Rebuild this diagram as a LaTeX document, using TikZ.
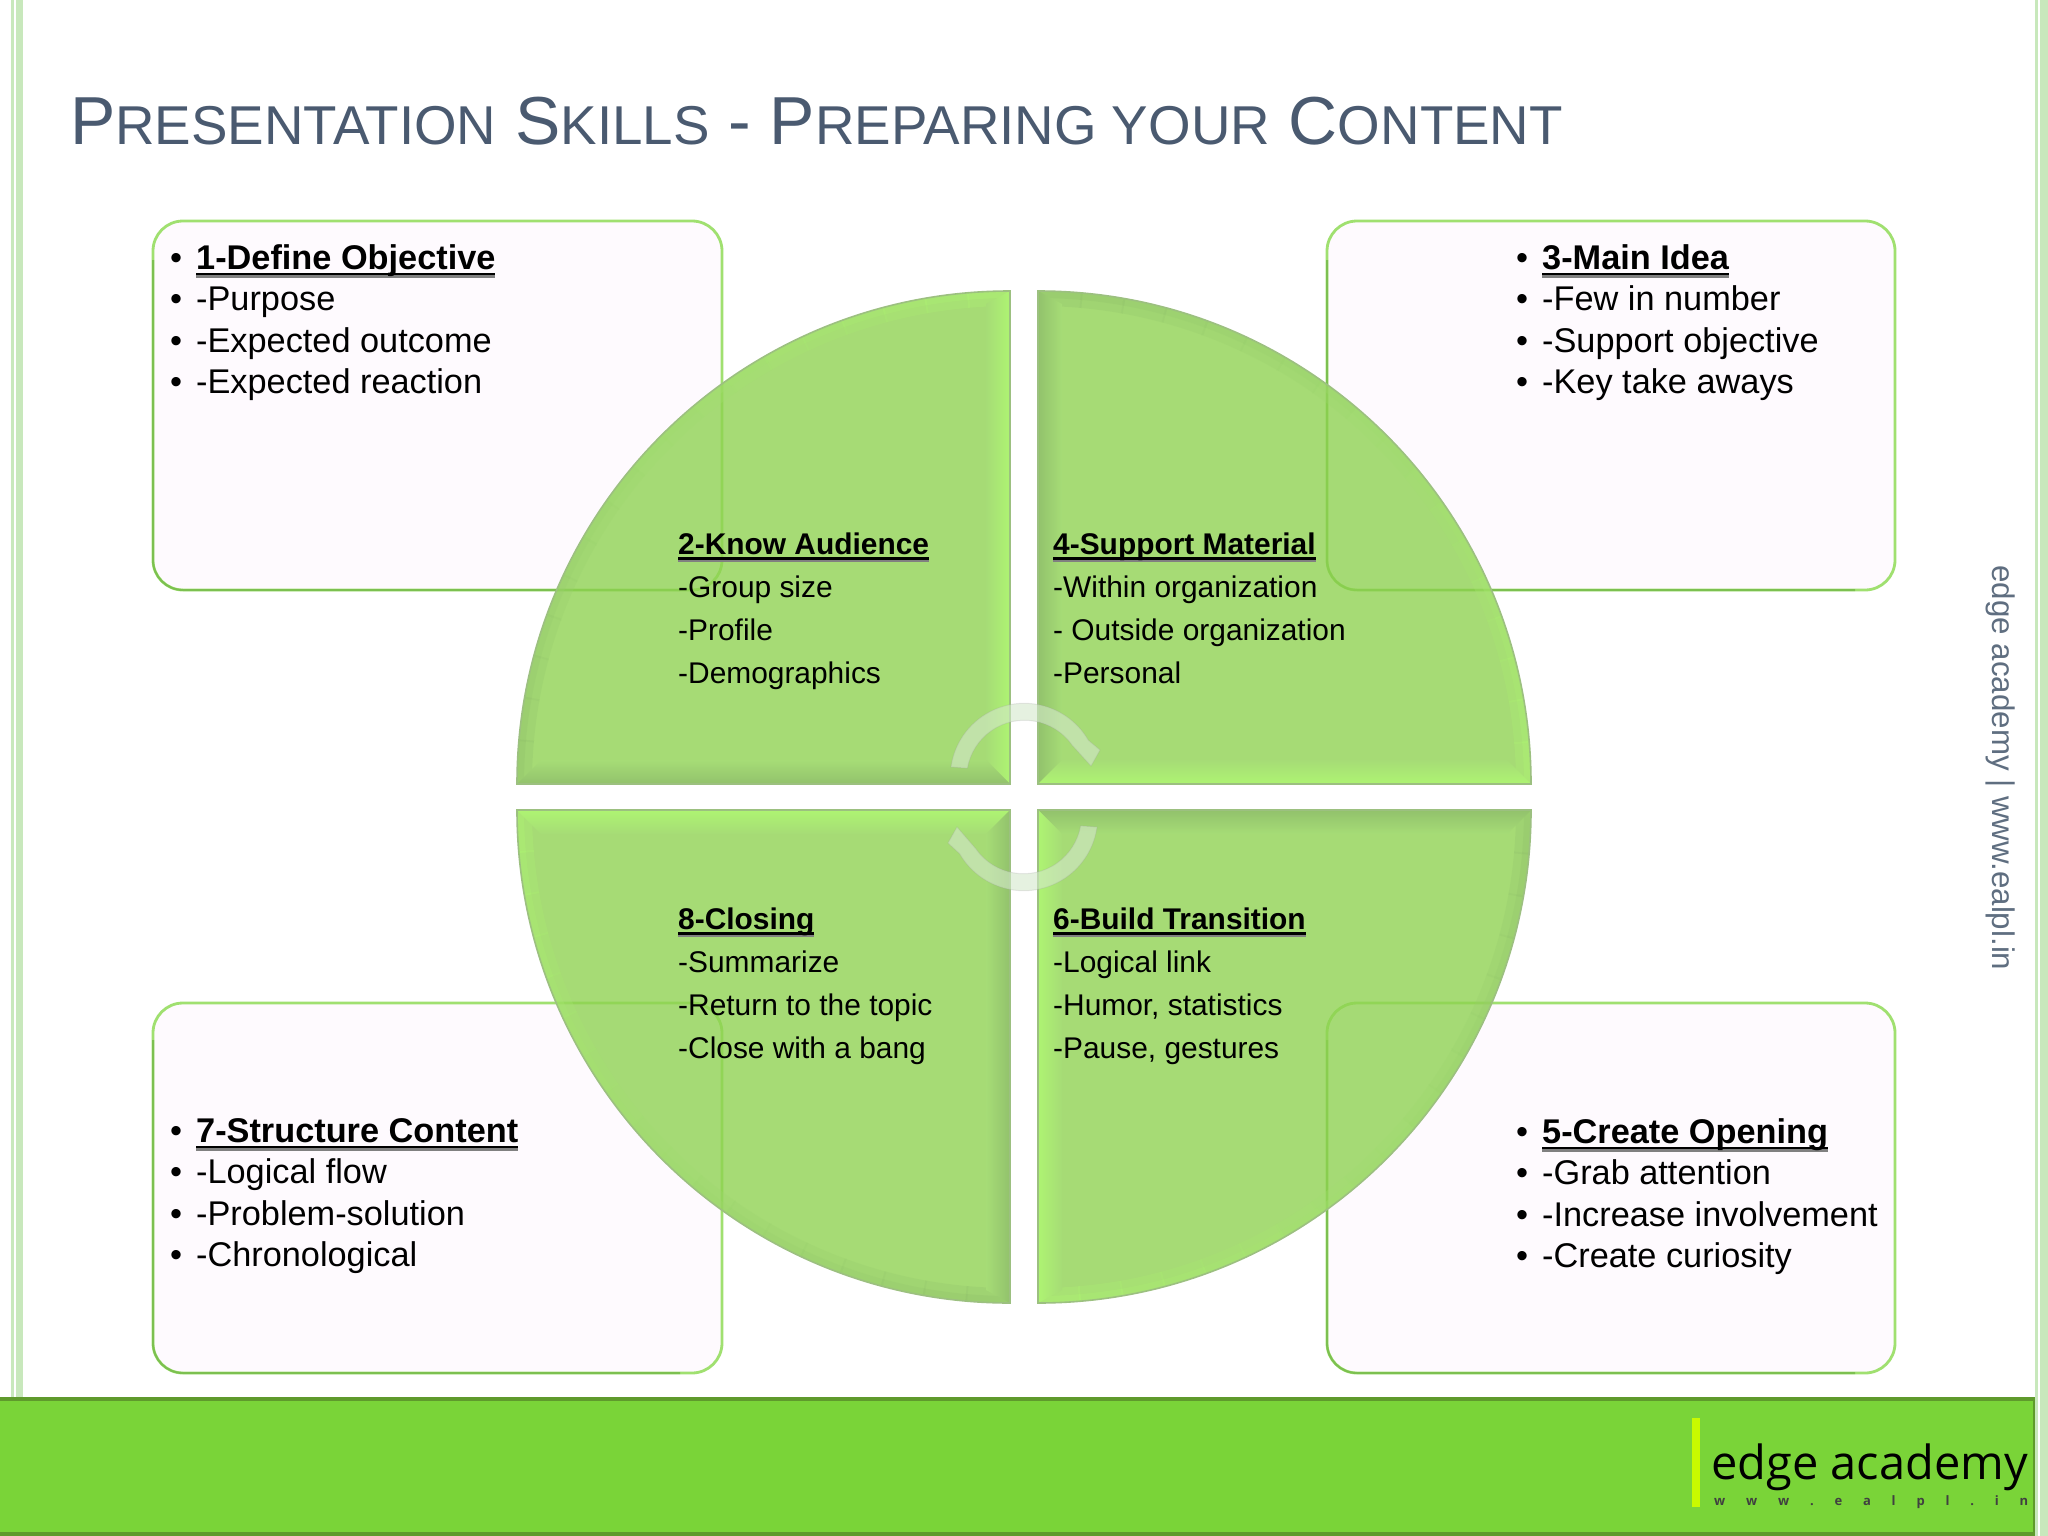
\documentclass[tikz,border=0pt]{standalone}
\usepackage{fontspec}
\setmainfont{Liberation Sans}
\newfontfamily\logofont{Open Sans}
\definecolor{titlec}{HTML}{4A5A70}
\definecolor{boxline}{HTML}{A0E070}
\definecolor{boxdark}{HTML}{7CC050}
\definecolor{boxfill}{HTML}{FEFAFE}
\definecolor{quad}{HTML}{8DD24F}
\definecolor{quadlook}{HTML}{A6DC76}
\definecolor{bright}{HTML}{AEF472}
\definecolor{dull}{HTML}{92C26C}
\definecolor{quadedge}{HTML}{9CC080}
\definecolor{footc}{HTML}{7AD438}
\definecolor{footl}{HTML}{5F9A2C}
\definecolor{stripe}{HTML}{C8E8BC}
\definecolor{sidec}{HTML}{5F6E80}
\definecolor{swirlc}{HTML}{D4E8CC}
\definecolor{logobar}{HTML}{C8FA00}
\newcommand{\fsz}[2]{\fontsize{#1}{#2}\selectfont}
\newcommand{\hd}[1]{\setbox0=\hbox{\textbf{#1}}\rlap{\rule[-5.6pt]{\wd0}{2.6pt}}\rlap{\textcolor{black!50}{\rule[-8pt]{\wd0}{2.4pt}}}\textbf{#1}}
\newcommand{\li}[1]{\makebox[26pt][l]{\textbullet}#1}
\newcommand{\sm}[1]{{\fsz{54.7}{60}#1}}
% one quadrant: corner x, corner y, arc start x, arc start y, start angle, end angle (dull to bright)
\newcommand{\quadrant}[7]{%
  \path[quadfill] #1 -- #2 arc[start angle=#3,end angle=#4,radius=493] -- cycle;
  \begin{scope}
    \clip #1 -- #2 arc[start angle=#3,end angle=#4,radius=493] -- cycle;
    \foreach \i in {0,...,17}{
      \pgfmathsetmacro\pct{\i*100/17}
      \pgfmathsetmacro\aa{#5+\i*5}
      \pgfmathsetmacro\ab{#5+\i*5+5.2}
      \draw[draw=bright!\pct!dull,draw opacity=.3,line width=30pt] #1 ++(\aa:493) arc[start angle=\aa,end angle=\ab,radius=493];
      \draw[draw=bright!\pct!dull,draw opacity=.35,line width=14pt] #1 ++(\aa:493) arc[start angle=\aa,end angle=\ab,radius=493];
    }
  \end{scope}
}
\tikzset{
  x=1pt,y=-1pt,
  listbox/.style={draw=boxline,line width=2.8pt,fill=boxfill,rounded corners=30pt},
  boxedge/.style={draw=boxdark,line width=2pt,rounded corners=30pt},
  boxtext/.style={anchor=north west,inner sep=0pt,align=left,font=\fsz{34.3}{41.3}},
  midtext/.style={anchor=north west,inner sep=0pt,align=left,font=\fsz{29.9}{43}},
  quadfill/.style={fill=quad,fill opacity=.78},
  quadline/.style={draw=quadedge,line width=1.6pt},
  swirl/.style={fill=swirlc,fill opacity=.6,draw=black!40,draw opacity=.2,line width=1pt},
}
\begin{document}
\begin{tikzpicture}
\useasboundingbox (0,0) rectangle (2048,1536);
\fill[white] (0,0) rectangle (2048,1536);
% page stripes
\fill[stripe] (11,0) rectangle (14,1400);
\fill[stripe] (16,0) rectangle (23,1400);
% footer
\fill[footc,draw=footl,line width=3.5pt] (-3,1399) rectangle (2035,1534);
\fill[stripe] (2035,0) rectangle (2038,1536);
\fill[stripe] (2040,0) rectangle (2048,1536);
% title
\node[anchor=base west,inner sep=0pt,text=titlec] (title) at (70,145)
  {\fsz{67.9}{70}P\sm{RESENTATION} S\sm{KILLS} - P\sm{REPARING YOUR} C\sm{ONTENT}};
% boxes
\path[listbox] (153,221) rectangle (722,590);
\path[listbox] (1327,221) rectangle (1895,590);
\path[listbox] (153,1003) rectangle (722,1373);
\path[listbox] (1327,1003) rectangle (1895,1373);
\path[boxedge] (153,260) -- (153,590) -- (680,590);
\path[boxedge] (1327,260) -- (1327,590) -- (1855,590);
\path[boxedge] (153,1040) -- (153,1373) -- (680,1373);
\path[boxedge] (1327,1040) -- (1327,1373) -- (1855,1373);
% quadrants
\quadrant{(1010,784)}{(1010,291)}{-90}{-180}{-180}{}{}
\quadrant{(1038,784)}{(1038,291)}{-90}{0}{-90}{}{}
\quadrant{(1038,810)}{(1038,1303)}{90}{0}{0}{}{}
\quadrant{(1010,810)}{(1010,1303)}{90}{180}{90}{}{}
% bevels on the straight edges
\shade[left color=quadlook,right color=bright] (1010,291) -- (1010,784) -- (986,760) -- (986,304) -- cycle;
\shade[top color=quadlook,bottom color=dull]   (517,784) -- (1010,784) -- (986,760) -- (541,760) -- cycle;
\shade[right color=quadlook,left color=dull]   (1038,291) -- (1038,784) -- (1062,760) -- (1062,304) -- cycle;
\shade[top color=quadlook,bottom color=bright] (1531,784) -- (1038,784) -- (1062,760) -- (1507,760) -- cycle;
\shade[bottom color=quadlook,top color=bright] (517,810) -- (1010,810) -- (986,834) -- (541,834) -- cycle;
\shade[left color=quadlook,right color=dull]   (1010,1303) -- (1010,810) -- (986,834) -- (986,1290) -- cycle;
\shade[bottom color=quadlook,top color=dull]   (1531,810) -- (1038,810) -- (1062,834) -- (1507,834) -- cycle;
\shade[right color=quadlook,left color=bright] (1038,1303) -- (1038,810) -- (1062,834) -- (1062,1290) -- cycle;
% quadrant outlines
\path[quadline] (1010,784) -- (1010,291) arc[start angle=-90,end angle=-180,radius=493] -- cycle;
\path[quadline] (1038,784) -- (1038,291) arc[start angle=-90,end angle=0,radius=493] -- cycle;
\path[quadline] (1010,810) -- (1010,1303) arc[start angle=90,end angle=180,radius=493] -- cycle;
\path[quadline] (1038,810) -- (1038,1303) arc[start angle=90,end angle=0,radius=493] -- cycle;
% rotating arrows
\path[swirl] (951,767) arc[start angle=-172,end angle=-30,radius=74] -- (1100,750) -- (1091,766) -- (1072,745)
  arc[start angle=-35,end angle=-170,radius=58] -- cycle;
\path[swirl] (1097,827) arc[start angle=8,end angle=150,radius=74] -- (948,843) -- (957,827) -- (976,849)
  arc[start angle=145,end angle=10,radius=58] -- cycle;
% box texts
\node[boxtext] (t1) at (170,244.5) {\li{\hd{1-Define Objective}}\\\li{-Purpose}\\\li{-Expected outcome}\\\li{-Expected reaction}};
\node[boxtext] (t3) at (1516,244.5) {\li{\hd{3-Main Idea}}\\\li{-Few in number}\\\li{-Support objective}\\\li{-Key take aways}};
\node[boxtext] (t7) at (170,1118.5) {\li{\hd{7-Structure Content}}\\\li{-Logical flow}\\\li{-Problem-solution}\\\li{-Chronological}};
\node[boxtext] (t5) at (1516,1118.5) {\li{\hd{5-Create Opening}}\\\li{-Grab attention}\\\li{-Increase involvement}\\\li{-Create curiosity}};
% centre texts
\node[midtext] (t2) at (678,532.5) {\hd{2-Know Audience}\\-Group size\\-Profile\\-Demographics};
\node[midtext] (t4) at (1053,532.5) {\hd{4-Support Material}\\-Within organization\\- Outside organization\\-Personal};
\node[midtext] (t8) at (678,907.5) {\hd{8-Closing}\\-Summarize\\-Return to the topic\\-Close with a bang};
\node[midtext] (t6) at (1053,907.5) {\hd{6-Build Transition}\\-Logical link\\-Humor, statistics\\-Pause, gestures};
% side text
\node[rotate=-90,inner sep=0pt,text=sidec,font=\fsz{31.3}{34}] (side) at (2000,768) {edge academy | www.ealpl.in};
% logo
\fill[logobar] (1692,1418) rectangle (1700,1507);
\node[anchor=base west,inner sep=0pt,font=\logofont\fsz{47}{50}] (logo) at (1711,1479) {edge academy};
\node[anchor=base west,inner sep=0pt,font=\logofont\bfseries\fsz{13}{14},text=black!75] (url) at (1714,1505)
  {\makebox[314pt][s]{w\hfill w\hfill w\hfill .\hfill e\hfill a\hfill l\hfill p\hfill l\hfill .\hfill i\hfill n}};
\end{tikzpicture}
\end{document}
